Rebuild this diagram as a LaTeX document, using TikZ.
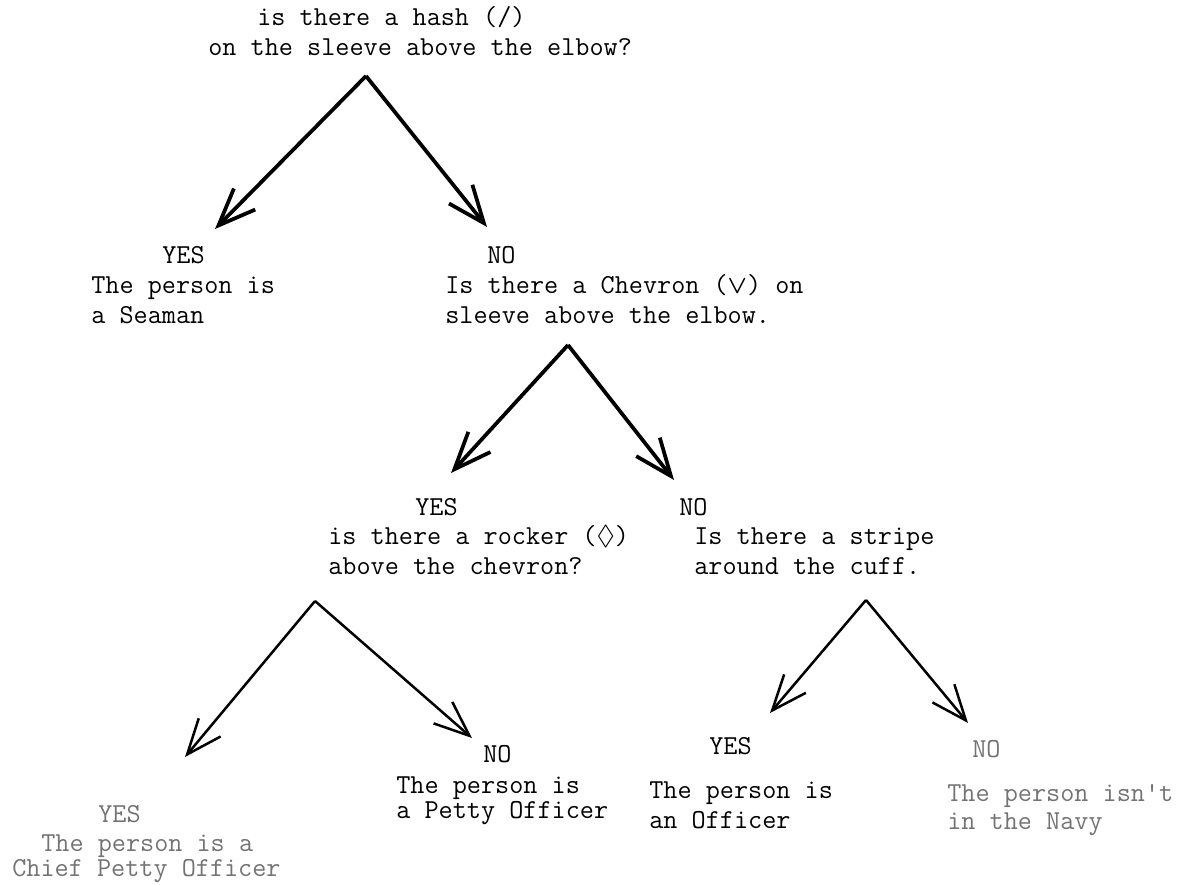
\documentclass[tikz,border=0pt]{standalone}
\usepackage{amsmath,amssymb}
\usetikzlibrary{arrows.meta}

\tikzset{
  branch/.style={line width=.75mm, -{Straight Barb[angle=44:8mm]}},
  twig/.style={line width=.5mm, -{Straight Barb[angle=44:7.6mm]}},
  typed/.style={anchor=base west, inner sep=0pt, align=left,
    font=\ttfamily\fontsize{15.6}{17.07}\selectfont},
}

\begin{document}
\begin{tikzpicture}[x=0.2mm,y=-0.2mm]
\useasboundingbox (0,0) rectangle (1177,885);

% first question
\node[typed] (hash) at (208,56) {\hspace*{9.8mm}is there a hash (/)\\on the sleeve above the elbow?};
\coordinate (hashtop) at (366,76);
\coordinate (hashyes) at (215,229);
\coordinate (hashno) at (487,227);
\draw[branch] (hashtop)--(hashyes);
\draw[branch] (hashtop)--(hashno);

\node[typed] (seamanlbl) at (162,264) {YES};
\node[typed] (seaman) at (91,323) {The person is\\a Seaman};

\node[typed] (chevronlbl) at (487,264) {NO};
\node[typed] (chevron) at (445,323) {Is there a Chevron ($\boldsymbol{\vee}$) on\\sleeve above the elbow.};

% second question
\coordinate (chevtop) at (568,345);
\coordinate (chevyes) at (451,473);
\coordinate (chevno) at (674,480);
\draw[branch] (chevtop)--(chevyes);
\draw[branch] (chevtop)--(chevno);

\node[typed] (rockerlbl) at (415,515) {YES};
\node[typed] (rocker) at (328,574) {is there a rocker ($\Diamond$)\\above the chevron?};

\node[typed] (stripelbl) at (679,515) {NO};
\node[typed] (stripe) at (694,574) {Is there a stripe\\around the cuff.};

% third and fourth questions
\coordinate (rocktop) at (315,601);
\coordinate (rockyes) at (185,757);
\coordinate (rockno) at (472,738);
\draw[twig] (rocktop)--(rockyes);
\draw[twig] (rocktop)--(rockno);

\coordinate (striptop) at (866,600);
\coordinate (stripyes) at (770,713);
\coordinate (stripno) at (968,723);
\draw[twig] (striptop)--(stripyes);
\draw[twig] (striptop)--(stripno);

\node[typed,black!55] (chieflbl) at (98,822) {YES};
\node[typed,black!55,font=\ttfamily\fontsize{15.6}{14.2}\selectfont] (chief) at (12,876) {\hspace*{5.8mm}The person is a\\Chief Petty Officer};

\node[typed] (pettylbl) at (483,762) {NO};
\node[typed,font=\ttfamily\fontsize{15.6}{11.4}\selectfont] (petty) at (396,818) {The person is\\a Petty Officer};

\node[typed] (officerlbl) at (709,754) {YES};
\node[typed] (officer) at (649,828) {The person is\\an Officer};

\node[typed,black!55] (navylbl) at (972,757) {NO};
\node[typed,black!55,font=\ttfamily\fontsize{15.6}{15.9}\selectfont] (navy) at (947,829) {The person isn't\\in the Navy};

\end{tikzpicture}
\end{document}
